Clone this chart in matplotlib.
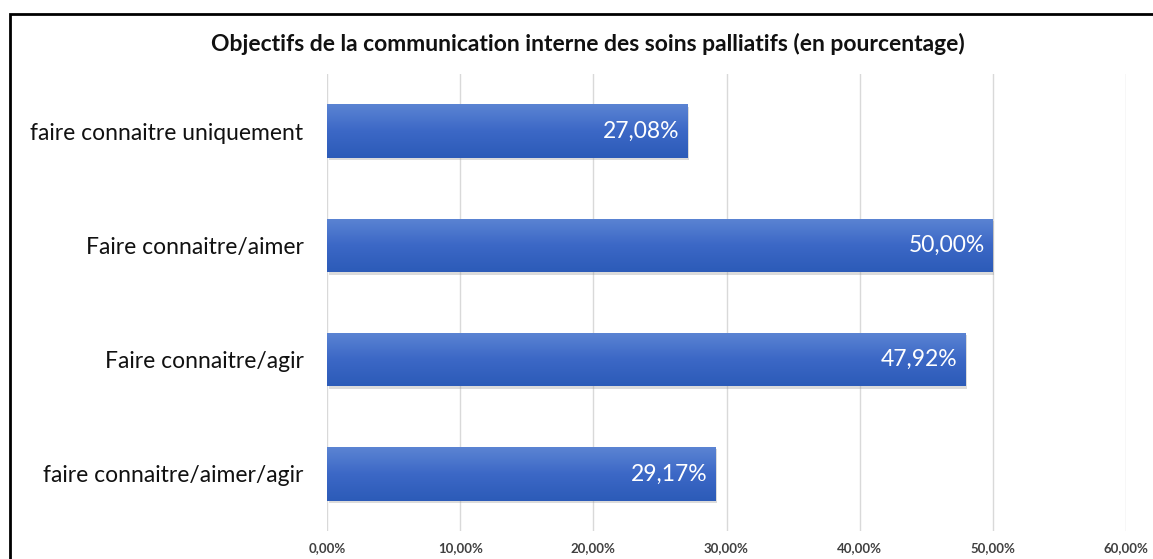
import numpy as np
import matplotlib
matplotlib.use('Agg')
import matplotlib.pyplot as plt
from matplotlib.patches import Rectangle
from matplotlib.ticker import FuncFormatter

categories = ['faire connaitre uniquement', 'Faire connaitre/aimer',
              'Faire connaitre/agir', 'faire connaitre/aimer/agir']
values = [27.08, 50.00, 47.92, 29.17]
title = 'Objectifs de la communication interne des soins palliatifs (en pourcentage)'

plt.rcParams['font.family'] = ['Lato', 'DejaVu Sans']

W, H = 1153, 559
fig = plt.figure(figsize=(W / 100, H / 100), dpi=100)
ax = fig.add_axes([327 / W, 1 - 531 / H, (1126 - 327) / W, (531 - 74) / H])

# cadre noir autour du graphique
fig.patches.append(Rectangle((10 / W, -0.05), 1.05, 1 - 14 / H + 0.05, transform=fig.transFigure,
                             fill=False, edgecolor='black', linewidth=2))

y = np.arange(len(categories))
bar_h = 0.47
grad = np.linspace(0, 1, 100).reshape(-1, 1)
cmap = matplotlib.colors.LinearSegmentedColormap.from_list('bl', ['#5b84d3', '#3c68c6', '#2c5bb8'])

bars = ax.barh(y, values, height=bar_h, color='#4472C4', zorder=2)
for b, v in zip(bars, values):
    # ombre légère
    ax.add_patch(Rectangle((b.get_x() + 0.12, b.get_y() + 0.02), v, bar_h,
                           facecolor='#999999', alpha=0.35, zorder=1.5, linewidth=0))
    im = ax.imshow(grad, extent=[0, v, b.get_y() + bar_h, b.get_y()], cmap=cmap,
                   aspect='auto', zorder=2.5, origin='upper')
    im.set_clip_path(b)
    ax.text(v - 0.6, b.get_y() + bar_h / 2, f'{v:.2f}%'.replace('.', ','),
            ha='right', va='center', color='white', fontsize=16.5, zorder=3)

ax.set_xlim(0, 60)
ax.set_ylim(3.5, -0.5)
ax.set_xticks(np.arange(0, 61, 10))
ax.xaxis.set_major_formatter(FuncFormatter(lambda x, p: f'{x:.2f}%'.replace('.', ',')))
ax.set_yticks(y)
ax.set_yticklabels(categories, fontsize=16.5, color='#111111')
for lbl in ax.get_xticklabels():
    lbl.set_fontsize(9.5)
    lbl.set_fontweight('bold')
    lbl.set_color('#404040')
ax.tick_params(axis='both', length=0)
ax.tick_params(axis='x', pad=8)
ax.tick_params(axis='y', pad=17)
ax.grid(axis='x', color='#d9d9d9', linewidth=1, zorder=0)
ax.set_axisbelow(True)
for s in ax.spines.values():
    s.set_visible(False)

fig.text(588 / W, 1 - 44 / H, title, ha='center', va='center',
         fontsize=16.5, fontweight='bold', color='#111111')

fig.savefig('out.png', dpi=100)
